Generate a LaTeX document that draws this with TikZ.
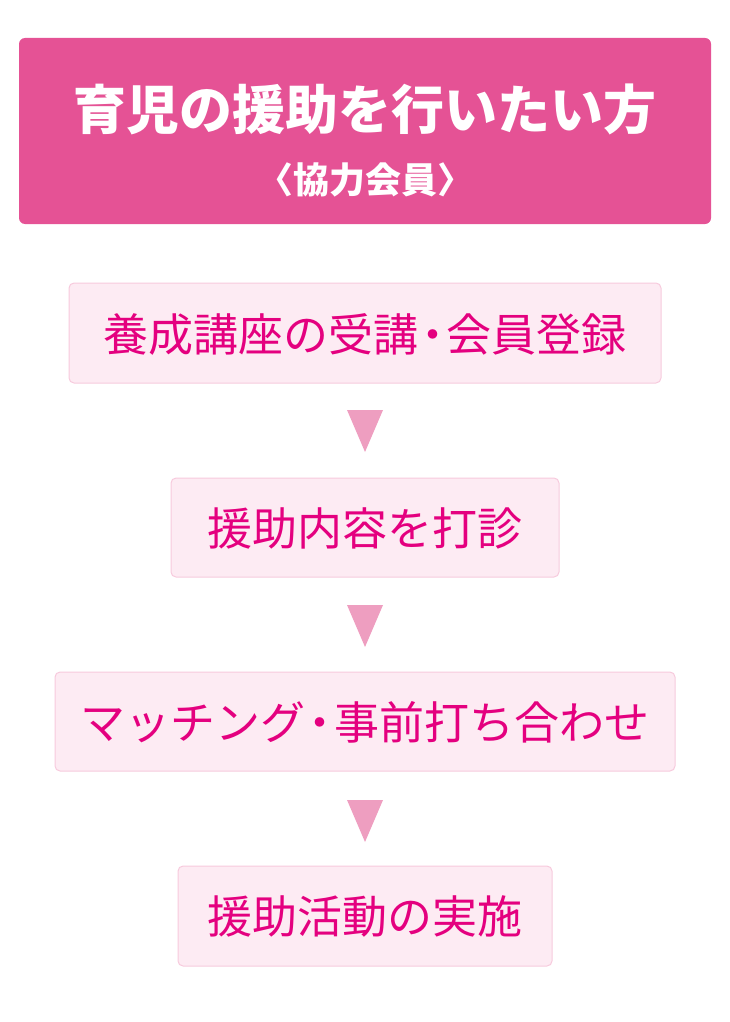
\documentclass[tikz,border=0pt]{standalone}
\usepackage{fontspec}
\newfontfamily\jp{Noto Sans CJK JP}
\definecolor{headfill}{HTML}{E55295}
\definecolor{boxfill}{HTML}{FDEBF3}
\definecolor{boxline}{HTML}{F7CADD}
\definecolor{boxtext}{HTML}{E4007F}
\definecolor{tri}{HTML}{EE9EC0}
\newcommand{\ndot}{\kern-0.18em・\kern-0.18em}
\tikzset{
  stepbox/.style={draw=boxline, line width=1pt, fill=boxfill, rounded corners=5pt, inner sep=0pt},
  steptext/.style={text=boxtext, font=\jp\fontsize{45}{54}\selectfont, inner sep=0pt, anchor=center},
  arrowtri/.style={fill=tri, draw=none},
}
\begin{document}
\begin{tikzpicture}[x=1pt,y=-1pt]
\useasboundingbox (0,0) rectangle (729,1022);
% header
\fill[headfill, rounded corners=6pt] (19,38) rectangle (711,224);
\node (head) at (365,109) [text=white, font=\jp\bfseries\fontsize{53}{60}\selectfont, inner sep=0pt] {育児の援助を行いたい方};
\node (sub) at (365,180) [text=white, font=\jp\bfseries\fontsize{36}{42}\selectfont, inner sep=0pt] {〈協力会員〉};
% boxes
\draw[stepbox] (69,283) rectangle (661,383);
\node (s1) at (365,334) [steptext] {養成講座の受講\ndot 会員登録};
\draw[stepbox] (171,478) rectangle (559,577);
\node (s2) at (365,528) [steptext] {援助内容を打診};
\draw[stepbox] (55,672) rectangle (675,771);
\node (s3) at (365,722) [steptext] {マッチング\ndot 事前打ち合わせ};
\draw[stepbox] (178,866) rectangle (552,966);
\node (s4) at (365,916) [steptext] {援助活動の実施};
% triangles
\fill[arrowtri] (347,410) -- (383,410) -- (365,452) -- cycle;
\fill[arrowtri] (347,605) -- (383,605) -- (365,647) -- cycle;
\fill[arrowtri] (347,800) -- (383,800) -- (365,842) -- cycle;
\end{tikzpicture}
\end{document}
